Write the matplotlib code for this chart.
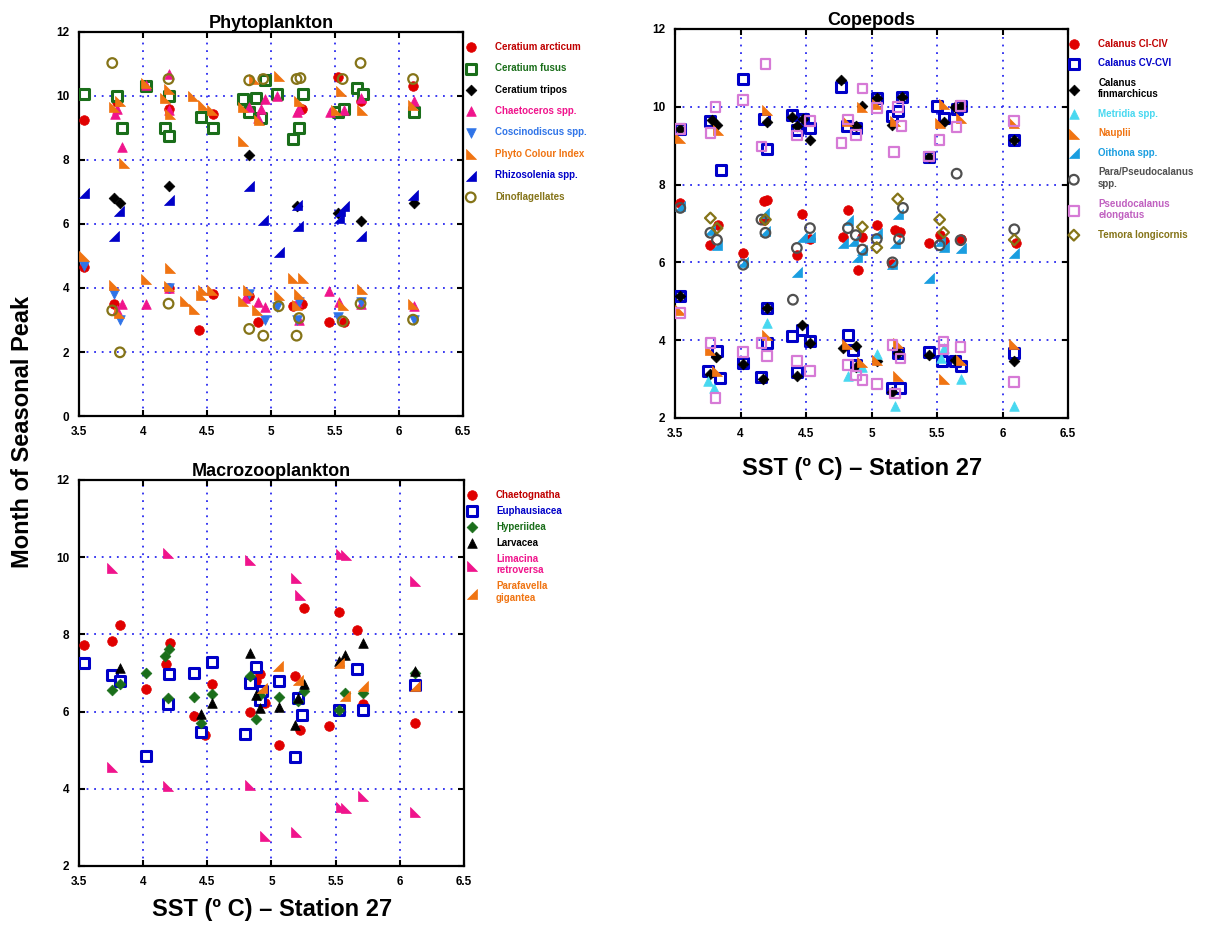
import matplotlib
matplotlib.use("Agg")
import matplotlib.pyplot as plt
from matplotlib.path import Path

plt.rcParams['font.family'] = ['Liberation Sans', 'DejaVu Sans']

# ---------------- data ----------------
sst_ticks = [3.5, 4, 4.5, 5, 5.5, 6, 6.5]
sst_ticklabels = ['3.5', '4', '4.5', '5', '5.5', '6', '6.5']

# Phytoplankton
arcticum_x = [3.54,3.80,4.20,4.55,5.05,5.24,5.52,5.55,5.70,6.11, 3.54,3.77,4.20,4.44,4.55,4.83,4.90,5.17,5.24,5.45,5.57]
arcticum_y = [9.25,9.80,9.60,9.45,10.05,9.60,10.60,9.50,9.85,10.30, 4.65,3.50,4.00,2.70,3.80,3.75,2.95,3.45,3.50,2.95,2.95]
fusus_x = [3.54,3.80,3.84,4.02,4.17,4.20,4.20,4.45,4.55,4.78,4.88,4.92,4.83,4.95,5.05,5.17,5.22,5.25,5.52,5.57,5.67,5.72,6.12]
fusus_y = [10.05,10.0,9.0,10.3,9.0,8.75,10.0,9.35,9.0,9.9,9.95,9.3,9.5,10.5,10.05,8.65,9.0,10.05,9.5,9.6,10.25,10.05,9.5]
tripos_x = [3.77,3.82,4.20,4.83,5.20,5.52,5.70,6.12]
tripos_y = [6.8,6.65,7.2,8.15,6.55,6.35,6.1,6.65]
chaet_x = [3.84,3.78,3.80,4.20,4.02,4.20,4.95,4.92,4.83,4.90,5.05,5.20,5.22,5.46,5.57,5.70,6.12,
           3.84,3.80,4.02,4.20,4.90,4.95,5.20,5.45,5.53,5.70,6.12,4.80,5.22]
chaet_y = [8.4,9.45,9.6,10.7,10.35,9.55,9.9,9.6,9.65,9.3,10.0,9.5,9.6,9.5,9.55,9.95,9.85,
           3.5,3.3,3.5,4.0,3.55,3.4,3.55,3.9,3.55,3.5,3.45,3.7,3.0]
cosc_x = [3.54,3.77,3.82,4.20,4.83,4.95,5.05,5.22,5.52,5.70,6.12,5.20]
cosc_y = [4.7,3.8,3.0,4.0,3.8,3.0,3.4,3.55,3.1,3.55,3.0,3.0]
pci_x = [3.54,3.77,3.77,3.82,3.85,3.81,4.02,4.02,4.17,4.20,4.21,4.21,4.20,4.33,4.39,4.40,4.47,4.45,4.47,4.54,4.54,
         4.78,4.78,4.78,4.82,4.87,4.89,4.91,5.06,5.06,5.17,5.25,5.22,5.22,5.20,5.55,5.51,5.56,5.71,5.71,6.11,6.11]
pci_y = [4.99,4.1,9.66,9.83,7.91,3.22,10.4,4.28,9.94,10.22,4.62,9.45,4.05,3.58,10.0,3.35,9.73,3.79,3.93,9.57,3.93,
         8.58,9.66,3.6,3.95,10.53,3.32,9.26,10.61,3.79,4.31,4.31,3.82,9.83,3.48,10.15,9.55,3.48,3.97,9.55,9.73,3.51]
rhizo_x = [3.54,3.77,3.81,4.20,4.83,4.94,5.06,5.20,5.21,5.53,5.57,5.70,6.11,5.54]
rhizo_y = [6.97,5.64,6.4,6.76,7.18,6.14,5.11,6.6,5.95,6.19,6.55,5.64,6.92,6.4]
dino_x = [3.76,3.76,3.82,4.20,4.20,4.83,4.83,4.94,4.94,5.06,5.20,5.23,5.20,5.22,5.56,5.56,5.70,5.70,6.11,6.11]
dino_y = [11.03,3.3,1.99,10.53,3.51,10.49,2.72,2.51,10.53,3.43,10.53,10.56,2.51,3.06,10.53,2.96,11.03,3.51,10.53,3.01]

# Copepods
cal14_x = [3.54,3.77,3.83,4.02,4.18,4.20,4.18,4.43,4.47,4.53,4.78,4.82,4.90,4.93,5.04,5.18,5.22,5.16,5.44,5.52,5.55,5.68,6.10]
cal14_y = [7.53,6.45,6.97,6.25,7.57,7.6,7.1,6.2,7.25,6.6,6.65,7.34,5.8,6.65,6.97,6.82,6.78,5.96,6.5,6.7,6.55,6.6,6.5]
cal56_x = [3.54,3.54,3.77,3.85,3.82,3.75,3.84,4.02,4.18,4.20,4.20,4.20,4.16,4.02,4.39,4.43,4.48,4.53,4.39,4.47,4.53,4.43,
           4.77,4.81,4.88,4.86,4.82,4.88,5.04,5.16,5.20,5.23,5.16,5.22,5.20,5.44,5.50,5.55,5.44,5.54,5.65,5.68,5.68,5.64,6.09,6.09]
cal56_y = [9.43,5.13,9.63,8.38,3.72,3.2,3.03,10.72,9.68,8.92,4.83,3.93,3.05,3.41,9.8,9.41,9.69,9.45,4.1,4.25,3.97,3.17,
           10.51,9.5,9.45,3.76,4.14,3.37,10.23,9.77,9.9,10.24,2.77,2.77,3.66,8.72,10.03,9.7,3.7,3.46,9.95,10.03,3.33,3.46,9.15,3.67]
finm_x = [3.54,3.54,3.78,3.82,3.81,3.77,4.02,4.20,4.20,4.17,4.39,4.43,4.48,4.53,4.47,4.53,4.43,4.77,4.93,4.88,4.78,4.88,4.88,
          5.16,5.04,5.23,5.04,5.20,5.16,5.44,5.44,5.55,5.64,5.68,5.64,6.09,6.09]
finm_y = [9.43,5.13,9.67,9.54,3.58,3.12,3.4,9.6,4.83,2.99,9.74,9.5,9.69,9.14,4.4,3.93,3.09,10.7,10.03,9.5,3.8,3.85,3.3,
          9.52,10.23,10.24,3.46,3.66,2.68,8.72,3.62,9.62,9.99,10.02,3.5,9.15,3.46]
metridia_x = [3.75,3.80,4.20,4.82,4.93,5.04,5.18,5.53,5.68,6.09,5.55]
metridia_y = [2.95,2.77,4.43,3.08,3.3,3.65,2.3,3.55,3.0,2.3,3.8]
nauplii_x = [3.54,3.54,3.83,3.82,3.77,4.20,4.20,4.81,4.93,4.93,5.04,5.04,5.18,5.20,5.20,5.52,5.55,5.55,5.68,5.68,6.09,6.09,4.81]
nauplii_y = [9.2,4.78,9.41,3.2,3.76,9.92,4.14,9.63,10.0,3.45,10.06,3.5,9.63,3.92,3.09,9.58,10.06,3.0,9.71,3.5,9.58,3.91,3.9]
oithona_x = [3.54,3.77,3.82,4.02,4.18,4.19,4.43,4.47,4.53,4.78,4.82,4.86,4.89,4.93,5.04,5.20,5.18,5.44,5.52,5.55,5.68,6.09,5.16]
oithona_y = [7.44,6.84,6.45,6.0,7.27,6.8,5.75,6.66,6.65,6.49,7.09,6.54,6.15,6.33,6.76,7.25,6.5,5.6,6.56,6.4,6.37,6.25,5.96]
para_x = [3.54,3.77,3.82,4.02,4.16,4.19,4.40,4.43,4.53,4.82,4.88,4.93,5.04,5.24,5.21,5.16,5.52,5.65,5.68,6.09]
para_y = [7.4,6.76,6.58,5.94,7.1,6.76,5.04,6.37,6.88,6.88,6.7,6.33,6.6,7.4,6.6,6.0,6.44,8.28,6.57,6.85]
pelong_x = [3.54,3.54,3.77,3.81,3.77,3.81,4.02,4.02,4.19,4.16,4.20,4.16,4.43,4.53,4.43,4.53,4.77,4.82,4.88,4.93,4.82,4.88,4.93,
            5.04,5.04,5.17,5.20,5.23,5.16,5.22,5.18,5.52,5.55,5.55,5.65,5.68,5.68,6.09,6.09,5.44]
pelong_y = [9.43,4.7,9.33,10.0,3.93,2.51,10.17,3.69,11.1,8.98,3.59,3.93,9.26,9.63,3.46,3.2,9.07,9.67,9.27,10.47,3.36,3.09,2.97,
            9.97,2.88,8.83,10.0,9.5,3.88,3.53,2.63,9.15,3.76,3.97,9.48,10.02,3.82,9.63,2.92,8.72]
temora_x = [3.77,3.82,4.19,4.93,5.04,5.20,5.52,5.55,6.09]
temora_y = [7.14,6.88,7.1,6.91,6.38,7.63,7.1,6.77,6.58]

# Macrozooplankton
chaeto_x = [3.54,3.76,3.82,4.02,4.21,4.18,4.40,4.48,4.54,4.83,4.91,4.88,4.95,5.06,5.18,5.22,5.25,5.45,5.53,5.67,5.71,6.12]
chaeto_y = [7.73,7.82,8.25,6.59,7.78,7.23,5.88,5.39,6.72,6.0,6.97,6.78,6.22,5.13,6.91,5.53,8.68,5.62,8.57,8.12,6.2,5.71]
euph_x = [3.54,3.76,3.82,4.02,4.20,4.19,4.40,4.45,4.54,4.79,4.83,4.88,4.91,5.06,5.18,5.21,5.24,5.53,5.67,5.71,6.12,4.93]
euph_y = [7.25,6.96,6.78,4.84,6.97,6.2,7.0,5.47,7.28,5.41,6.74,7.15,6.31,6.78,4.82,6.35,5.91,6.03,7.11,6.03,6.69,6.53]
hyper_x = [3.76,3.82,4.02,4.17,4.20,4.19,4.40,4.45,4.54,4.83,4.88,4.91,5.06,5.21,5.25,5.53,5.57,5.71,6.12]
hyper_y = [6.56,6.72,6.99,7.43,7.63,6.34,6.37,5.71,6.46,6.93,5.82,6.44,6.39,6.27,6.53,6.03,6.47,6.47,7.0]
larv_x = [3.82,4.45,4.54,4.83,4.88,4.91,5.06,5.18,5.21,5.25,5.53,5.57,5.71,6.12]
larv_y = [7.13,5.94,6.22,7.52,6.44,6.08,6.11,5.66,6.35,6.72,7.3,7.47,7.78,7.06]
lima_x = [3.76,3.76,4.19,4.19,4.83,4.83,4.95,5.19,5.22,5.19,5.54,5.58,5.54,5.58,5.71,6.12,6.12]
lima_y = [9.73,4.56,10.1,4.07,9.93,4.11,2.78,9.47,9.01,2.89,10.08,10.06,3.53,3.49,3.81,9.39,3.4]
paraf_x = [5.05,5.21,4.93,5.53,5.57,5.71,6.12]
paraf_y = [7.19,6.83,6.61,7.26,6.4,6.66,6.66]

# ---------------- markers ----------------
tri_bl = Path([(-1, 1), (-1, -1), (1, -1), (-1, 1)], closed=True)   # right angle bottom-left
tri_br = Path([(1, 1), (1, -1), (-1, -1), (1, 1)], closed=True)     # right angle bottom-right

RED = '#e00000'; DKRED = '#c00000'
GREEN = '#1a6e1a'
PINK = '#f0148c'
LBLUE = '#2f74e8'
ORANGE = '#f07412'
DBLUE = '#0000c8'
OLIVE = '#857418'
CYAN = '#48d8f0'
OITH = '#1a9ee0'
GREY = '#505050'
VIOLET = '#d67ad6'

fig = plt.figure(figsize=(12.3, 9.38), dpi=100)

ax1 = fig.add_axes([0.0642, 0.5565, 0.3122, 0.4094])
ax2 = fig.add_axes([0.5488, 0.5544, 0.3195, 0.4147])
ax3 = fig.add_axes([0.0642, 0.0768, 0.3130, 0.4115])

S = 48
ST = 55

def filled(ax, x, y, m, c, lab, s=S):
    ax.scatter(x, y, marker=m, s=s, facecolors=c, edgecolors=c, linewidths=0.5, label=lab, zorder=3)

def hollow(ax, x, y, m, c, lab, s=S, lw=1.6):
    ax.scatter(x, y, marker=m, s=s, facecolors='none', edgecolors=c, linewidths=lw, label=lab, zorder=3)

def square(ax, x, y, c, lab, s=42):
    ax.scatter(x, y, marker='s', s=s, facecolors='white', edgecolors=c, linewidths=2.2, label=lab, zorder=3)

# Phytoplankton
filled(ax1, arcticum_x, arcticum_y, 'o', RED, 'Ceratium arcticum')
square(ax1, fusus_x, fusus_y, GREEN, 'Ceratium fusus')
filled(ax1, tripos_x, tripos_y, 'D', 'black', 'Ceratium tripos', s=30)
filled(ax1, chaet_x, chaet_y, '^', PINK, 'Chaetoceros spp.')
filled(ax1, cosc_x, cosc_y, 'v', LBLUE, 'Coscinodiscus spp.')
filled(ax1, pci_x, pci_y, tri_bl, ORANGE, 'Phyto Colour Index', s=ST)
filled(ax1, rhizo_x, rhizo_y, tri_br, DBLUE, 'Rhizosolenia spp.', s=ST)
hollow(ax1, dino_x, dino_y, 'o', OLIVE, 'Dinoflagellates')
ph_colors = [DKRED, GREEN, 'black', PINK, LBLUE, ORANGE, DBLUE, OLIVE]

# Copepods
filled(ax2, cal14_x, cal14_y, 'o', RED, 'Calanus CI-CIV')
square(ax2, cal56_x, cal56_y, DBLUE, 'Calanus CV-CVI')
filled(ax2, finm_x, finm_y, 'D', 'black', 'Calanus\nfinmarchicus', s=30)
filled(ax2, metridia_x, metridia_y, '^', CYAN, 'Metridia spp.')
filled(ax2, nauplii_x, nauplii_y, tri_bl, ORANGE, 'Nauplii', s=ST)
filled(ax2, oithona_x, oithona_y, tri_br, OITH, 'Oithona spp.', s=ST)
hollow(ax2, para_x, para_y, 'o', GREY, 'Para/Pseudocalanus\nspp.')
hollow(ax2, pelong_x, pelong_y, 's', VIOLET, 'Pseudocalanus\nelongatus', s=48)
hollow(ax2, temora_x, temora_y, 'D', OLIVE, 'Temora longicornis', s=30)
cp_colors = [DKRED, DBLUE, 'black', CYAN, ORANGE, OITH, GREY, '#c060c0', OLIVE]

# Macrozooplankton
filled(ax3, chaeto_x, chaeto_y, 'o', RED, 'Chaetognatha')
square(ax3, euph_x, euph_y, DBLUE, 'Euphausiacea')
filled(ax3, hyper_x, hyper_y, 'D', GREEN, 'Hyperiidea', s=30)
filled(ax3, larv_x, larv_y, '^', 'black', 'Larvacea')
filled(ax3, lima_x, lima_y, tri_bl, PINK, 'Limacina\nretroversa', s=ST)
filled(ax3, paraf_x, paraf_y, tri_br, ORANGE, 'Parafavella\ngigantea', s=ST)
mz_colors = [DKRED, DBLUE, GREEN, 'black', PINK, ORANGE]

grid_kw = dict(color='#2a2af0', linestyle=(0, (1, 3.2)), linewidth=1.3)

def style(ax, ylim, yticks, title):
    ax.set_xlim(3.5, 6.5)
    ax.set_ylim(*ylim)
    ax.set_xticks(sst_ticks)
    ax.set_xticklabels(sst_ticklabels)
    ax.set_yticks(yticks)
    ax.set_yticklabels([str(t) for t in yticks])
    ax.grid(True, **grid_kw)
    ax.set_axisbelow(True)
    for sp in ax.spines.values():
        sp.set_linewidth(1.6)
    ax.tick_params(direction='in', length=4, width=1.5, top=True, right=True,
                   labelsize=8.5, pad=7)
    for lab in ax.get_xticklabels() + ax.get_yticklabels():
        lab.set_fontweight('bold')
    ax.set_title(title, fontsize=13, fontweight='bold', pad=3)

style(ax1, (0, 12), [0, 2, 4, 6, 8, 10, 12], 'Phytoplankton')
style(ax2, (2, 12), [2, 4, 6, 8, 10, 12], 'Copepods')
style(ax3, (2, 12), [2, 4, 6, 8, 10, 12], 'Macrozooplankton')

lprop = {'weight': 'bold', 'size': 7}
ax1.legend(loc='upper left', bbox_to_anchor=(1.005, 0.975), frameon=False, prop=lprop,
           labelcolor=ph_colors, handlelength=1.2, handletextpad=1.9, labelspacing=1.18,
           borderaxespad=0, borderpad=0, scatterpoints=1)
ax2.legend(loc='upper left', bbox_to_anchor=(1.0, 0.975), frameon=False, prop=lprop,
           labelcolor=cp_colors, handlelength=1.2, handletextpad=1.9, labelspacing=0.98,
           borderaxespad=0, borderpad=0, scatterpoints=1)
ax3.legend(loc='upper left', bbox_to_anchor=(1.005, 0.975), frameon=False, prop=lprop,
           labelcolor=mz_colors, handlelength=1.2, handletextpad=1.9, labelspacing=0.62,
           borderaxespad=0, borderpad=0, scatterpoints=1)

fig.text(0.018, 0.54, 'Month of Seasonal Peak', rotation=90, ha='center', va='center',
         fontsize=17, fontweight='bold')
fig.text(0.701, 0.501, 'SST (º C) – Station 27', ha='center', va='center',
         fontsize=17, fontweight='bold')
fig.text(0.221, 0.03, 'SST (º C) – Station 27', ha='center', va='center',
         fontsize=17, fontweight='bold')

fig.savefig('out.png', dpi=100)
